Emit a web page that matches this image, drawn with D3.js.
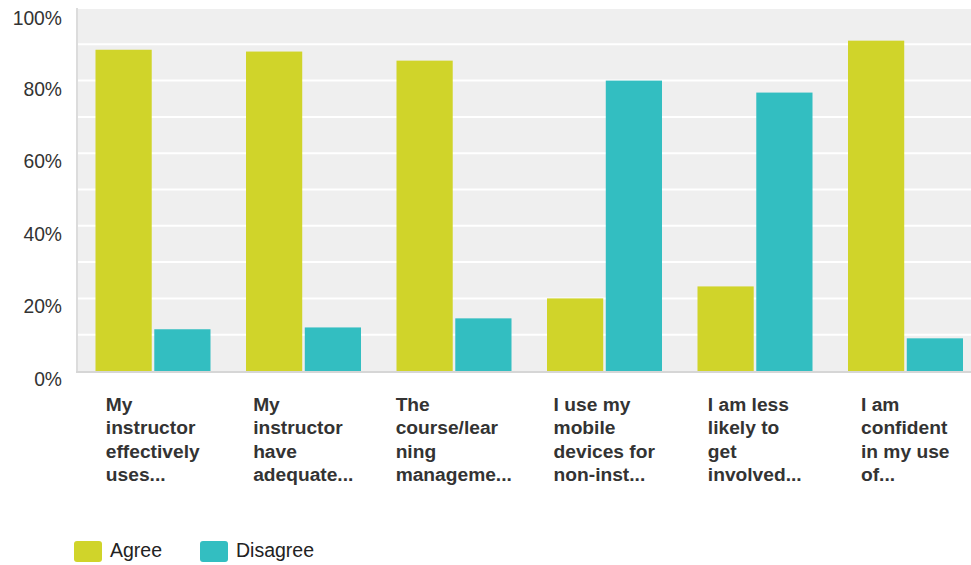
<!DOCTYPE html>
<html>
<head>
<meta charset="utf-8">
<script src="https://cdn.jsdelivr.net/npm/d3@7.9.0/dist/d3.min.js"></script>
<style>
  body { margin: 0; background: #fff; }
  svg { display: block; font-family: "Liberation Sans", Arial, sans-serif; }
</style>
</head>
<body>
<svg id="chart" width="971" height="565"></svg>
<script>
// survey statements (truncated as in the chart)
const questions = [
  ['My', 'instructor', 'effectively', 'uses...'],
  ['My', 'instructor', 'have', 'adequate...'],
  ['The', 'course/lear', 'ning', 'manageme...'],
  ['I use my', 'mobile', 'devices for', 'non-inst...'],
  ['I am less', 'likely to', 'get', 'involved...'],
  ['I am', 'confident', 'in my use', 'of...']
];
const seriesNames = ['Agree', 'Disagree'];
const agree = [88.5, 88, 85.5, 20, 23.3, 91];
const disagree = [11.5, 12, 14.5, 80, 76.7, 9];
const yTicks = [0, 20, 40, 60, 80, 100];
const colors = ['#d0d42a', '#33bec1'];

const svg = d3.select('#chart');
const plotL = 78, plotR = 981, plotT = 8, plotB = 371;

const x = d3.scaleBand().domain(d3.range(questions.length)).range([plotL, plotR]);
const inner = d3.scaleBand().domain(seriesNames).range([17.5, 132.5]).paddingInner(5 / 115);
const y = d3.scaleLinear().domain([0, 100]).range([plotB, plotT]);

// plot background
svg.append('rect')
  .attr('x', plotL).attr('y', plotT)
  .attr('width', 971 - plotL).attr('height', plotB - plotT)
  .attr('fill', '#efefef');

// gridlines every 10%
svg.append('g')
  .selectAll('line')
  .data(d3.range(10, 101, 10))
  .join('line')
  .attr('x1', plotL).attr('x2', 971)
  .attr('y1', d => y(d)).attr('y2', d => y(d))
  .attr('stroke', '#fff').attr('stroke-width', 2);

// bars
const data = questions.map((q, i) => [agree[i], disagree[i]]);
const groups = svg.append('g').selectAll('g')
  .data(data)
  .join('g')
  .attr('transform', (d, i) => `translate(${x(i)},0)`);

groups.selectAll('rect')
  .data(d => d.map((v, j) => ({ v, s: seriesNames[j], j })))
  .join('rect')
  .attr('x', d => inner(d.s))
  .attr('width', inner.bandwidth())
  .attr('y', d => y(d.v))
  .attr('height', d => plotB - y(d.v))
  .attr('fill', d => colors[d.j]);

// axis lines
svg.append('line')
  .attr('x1', plotL - 1).attr('x2', plotL - 1)
  .attr('y1', plotT).attr('y2', plotB + 2)
  .attr('stroke', '#dcdcdc').attr('stroke-width', 2);
svg.append('line')
  .attr('x1', plotL - 2).attr('x2', 971)
  .attr('y1', plotB + 1).attr('y2', plotB + 1)
  .attr('stroke', '#d6d6d6').attr('stroke-width', 2);

// y labels
svg.append('g').selectAll('text')
  .data(yTicks)
  .join('text')
  .attr('x', 62)
  .attr('y', d => y(d) + (d === 100 ? 17 : 15))
  .attr('text-anchor', 'end')
  .attr('font-size', 19.3)
  .attr('fill', '#333')
  .text(d => d + '%');

// x labels: block centred on the group, lines left aligned
questions.forEach((lines, i) => {
  const g = svg.append('g');
  const t = g.selectAll('text')
    .data(lines)
    .join('text')
    .attr('y', (d, k) => 410.5 + k * 23.5)
    .attr('font-size', 19.2)
    .attr('font-weight', 'bold')
    .attr('fill', '#333')
    .text(d => d);
  let w = 0;
  t.each(function() { w = Math.max(w, this.getComputedTextLength()); });
  const cx = x(i) + x.bandwidth() / 2 - 0.5;
  t.attr('x', cx - w / 2);
});

// legend
const legend = svg.append('g').attr('transform', 'translate(74,541)');
const items = legend.selectAll('g')
  .data(seriesNames)
  .join('g')
  .attr('transform', (d, i) => `translate(${i * 126},0)`);
items.append('rect')
  .attr('width', 28).attr('height', 21).attr('rx', 3)
  .attr('fill', (d, i) => colors[i]);
items.append('text')
  .attr('x', 36).attr('y', 16)
  .attr('font-size', 19.5)
  .attr('fill', '#222')
  .text(d => d);
</script>
</body>
</html>
